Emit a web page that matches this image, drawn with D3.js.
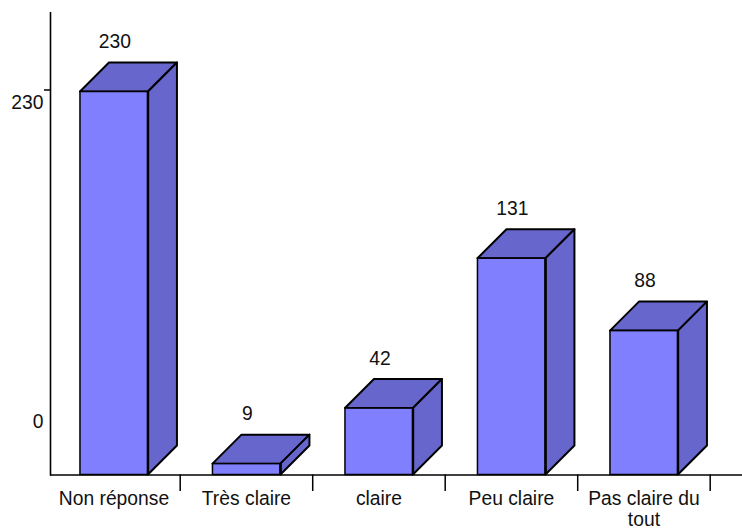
<!DOCTYPE html>
<html><head><meta charset="utf-8">
<script src="https://cdnjs.cloudflare.com/ajax/libs/d3/7.8.5/d3.min.js"></script>
<style>html,body{margin:0;padding:0;background:#fff}svg{display:block}text{font-family:"Liberation Sans",Arial,sans-serif;font-size:19.3px;fill:#111}</style>
</head><body><svg id="c" width="742" height="528"></svg>
<script>
const categories = ["Non réponse","Très claire","claire","Peu claire","Pas claire du tout"];
const values = [230,9,42,131,88];
const axisLabels = [230,0];

const baseY = 474.5, depth = 29;
const svg = d3.select("#c");
const x = d3.scaleBand().domain(categories).range([47.7,710.2]).paddingInner(0.487).paddingOuter(0.2435);
const y = d3.scaleLinear().domain([0,230]).range([478.8,91.5]);
const labelY = d3.scaleLinear().domain([0,230]).range([421,102]);
const bw = x.bandwidth();
const sepOffset = x.step()*(1-0.2435);

// bars
const g = svg.selectAll("g.bar").data(categories.map((c,i)=>({c,v:values[i]}))).join("g").attr("class","bar");
const topOf = d => y(d.v);
g.append("path").attr("fill","#6666CC").attr("stroke","#000").attr("stroke-width",2).attr("stroke-linejoin","round")
 .attr("d",d=>{const l=x(d.c),r=l+bw,t=topOf(d);return `M${l},${t}L${l+depth},${t-depth}L${r+depth},${t-depth}L${r},${t}Z`;});
g.append("path").attr("fill","#6666CC").attr("stroke","#000").attr("stroke-width",2).attr("stroke-linejoin","round")
 .attr("d",d=>{const r=x(d.c)+bw,t=topOf(d);return `M${r},${t}L${r+depth},${t-depth}L${r+depth},${baseY-depth}L${r},${baseY}Z`;});
g.append("rect").attr("x",d=>x(d.c)).attr("y",d=>topOf(d)).attr("width",bw).attr("height",d=>baseY-topOf(d))
 .attr("fill","#8080FF").attr("stroke","#000").attr("stroke-width",1.5);
g.append("line").attr("x1",d=>x(d.c)+bw).attr("x2",d=>x(d.c)+bw).attr("y1",d=>topOf(d)).attr("y2",baseY).attr("stroke","#000").attr("stroke-width",2.5);
g.append("text").attr("text-anchor","middle").attr("x",d=>x(d.c)+bw/2+1).attr("y",d=>topOf(d)-43.5).text(d=>d.v);

// axes
svg.append("line").attr("x1",50.5).attr("x2",50.5).attr("y1",12).attr("y2",baseY+1).attr("stroke","#000").attr("stroke-width",1.6);
svg.append("line").attr("x1",50).attr("x2",742).attr("y1",baseY+.5).attr("y2",baseY+.5).attr("stroke","#000").attr("stroke-width",1.6);
svg.append("line").attr("x1",44).attr("x2",50).attr("y1",y(230)-1.5).attr("y2",y(230)-1.5).attr("stroke","#000").attr("stroke-width",1.5);
svg.selectAll("text.yl").data(axisLabels).join("text").attr("class","yl").attr("text-anchor","end").attr("x",43.5)
 .attr("y",d=>labelY(d)+7).text(d=>d);

// category separators
svg.selectAll("line.sep").data(categories).join("line").attr("class","sep")
 .attr("x1",d=>x(d)+sepOffset).attr("x2",d=>x(d)+sepOffset)
 .attr("y1",baseY).attr("y2",491).attr("stroke","#000").attr("stroke-width",1.5);

// category labels
svg.selectAll("text.cat").data(categories).join("text").attr("class","cat").attr("text-anchor","middle")
 .each(function(c){
   const t=d3.select(this), cx=x(c)+bw/2;
   const lines = c==="Pas claire du tout" ? ["Pas claire du","tout"] : [c];
   lines.forEach((s,i)=>t.append("tspan").attr("x",cx).attr("y",505+i*20.5).text(s));
 });
</script></body></html>
